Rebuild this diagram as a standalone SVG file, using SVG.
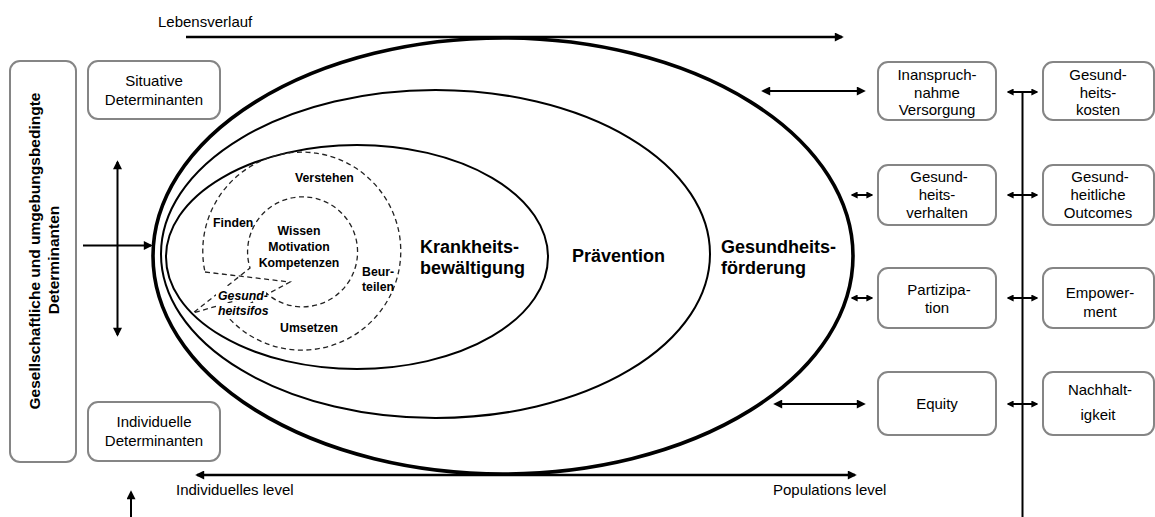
<svg xmlns="http://www.w3.org/2000/svg" width="1155" height="517" viewBox="0 0 1155 517">
<style>
text{font-family:"Liberation Sans",Arial,sans-serif;fill:#000}
.lbl{font-size:15px}
.mid{text-anchor:middle}
.big{font-size:18px;font-weight:bold}
.sm{font-size:12.3px;font-weight:bold}
.box{fill:#fff;stroke:#858585;stroke-width:2}
.ell{fill:none;stroke:#000}
.dash{fill:none;stroke:#222;stroke-width:1.3;stroke-dasharray:5 3.5}
.ln{stroke:#000;stroke-width:2;fill:none}
.lnt{stroke:#000;stroke-width:2.6;fill:none}
</style>
<defs>
<marker id="ah" viewBox="0 0 10 10" refX="8" refY="5" markerWidth="10" markerHeight="9" markerUnits="userSpaceOnUse" orient="auto-start-reverse"><path d="M0,0 L10,5 L0,10 z" fill="#000"/></marker>
<marker id="ahs" viewBox="0 0 10 10" refX="8" refY="5" markerWidth="7" markerHeight="7" markerUnits="userSpaceOnUse" orient="auto-start-reverse"><path d="M0,0 L10,5 L0,10 z" fill="#000"/></marker>
</defs>
<rect width="1155" height="517" fill="#fff"/>

<g id="ellipses">
<ellipse id="gesundheitsfoerderung" class="ell" cx="503" cy="256" rx="350" ry="218" stroke-width="3.6"/>
<ellipse id="praevention" class="ell" cx="435.5" cy="254" rx="274.5" ry="164" stroke-width="2"/>
<ellipse id="krankheitsbewaeltigung" class="ell" cx="357" cy="257" rx="191" ry="112" stroke-width="2"/>
</g>

<g id="literacy">
<path class="dash" d="M205,272 L290,282 L227,316 A99,99 0 1 0 205,272"/>
<path class="dash" d="M265,292 L193,313 L250,268 A55,55 0 1 1 265,292"/>
<rect x="216" y="286" width="50" height="15" fill="#fff"/>
<rect x="216" y="303" width="54" height="16" fill="#fff"/>
<text class="sm" x="295" y="182">Verstehen</text>
<text class="sm" x="213" y="227">Finden</text>
<text class="sm mid" x="299" y="235">Wissen</text>
<text class="sm mid" x="299" y="251">Motivation</text>
<text class="sm mid" x="299" y="267">Kompetenzen</text>
<text class="sm" x="362" y="276">Beur-</text>
<text class="sm" x="362" y="291">teilen</text>
<text class="sm" x="280" y="332">Umsetzen</text>
<text class="sm" x="218" y="300" font-style="italic">Gesund-</text>
<text class="sm" x="218" y="315" font-style="italic">heitsifos</text>
</g>

<g id="ellipse-labels">
<text class="big" x="420" y="253">Krankheits-</text>
<text class="big" x="420" y="274">bewältigung</text>
<text class="big" x="572" y="262">Prävention</text>
<text class="big" x="721" y="253">Gesundheits-</text>
<text class="big" x="721" y="274">förderung</text>
</g>

<g id="axis-labels">
<text class="lbl" x="158" y="27">Lebensverlauf</text>
<text class="lbl" x="176" y="495">Individuelles level</text>
<text class="lbl" x="773" y="495">Populations level</text>
</g>

<g id="gesellschaftliche-determinanten">
<rect class="box" x="10" y="61" width="66" height="401" rx="10"/>
<text font-size="15.5" font-weight="bold" class="mid" transform="translate(40,251) rotate(-90)">Gesellschaftliche und umgebungsbedingte</text>
<text font-size="15.5" font-weight="bold" class="mid" transform="translate(59,260) rotate(-90)">Determinanten</text>
</g>

<g id="situative-determinanten">
<rect class="box" x="88" y="61" width="132" height="58" rx="10"/>
<text class="lbl mid" x="154" y="86">Situative</text>
<text class="lbl mid" x="154" y="105">Determinanten</text>
</g>

<g id="individuelle-determinanten">
<rect class="box" x="88" y="402" width="132" height="59" rx="10"/>
<text class="lbl mid" x="154" y="427">Individuelle</text>
<text class="lbl mid" x="154" y="446">Determinanten</text>
</g>

<g id="inanspruchnahme">
<rect class="box" x="878" y="62" width="118" height="58" rx="10"/>
<text class="lbl mid" x="937" y="80">Inanspruch-</text>
<text class="lbl mid" x="937" y="97.5">nahme</text>
<text class="lbl mid" x="937" y="115">Versorgung</text>
</g>
<g id="gesundheitsverhalten">
<rect class="box" x="878" y="165" width="118" height="60" rx="10"/>
<text class="lbl mid" x="939" y="182">Gesund-</text>
<text class="lbl mid" x="937" y="200">heits-</text>
<text class="lbl mid" x="937" y="218">verhalten</text>
</g>
<g id="partizipation">
<rect class="box" x="878" y="268" width="118" height="60" rx="10"/>
<text class="lbl mid" x="939" y="295">Partizipa-</text>
<text class="lbl mid" x="937" y="313">tion</text>
</g>
<g id="equity">
<rect class="box" x="878" y="372" width="118" height="63" rx="10"/>
<text class="lbl mid" x="937" y="409">Equity</text>
</g>

<g id="gesundheitskosten">
<rect class="box" x="1043" y="62" width="111" height="58" rx="10"/>
<text class="lbl mid" x="1098" y="80">Gesund-</text>
<text class="lbl mid" x="1098" y="97.5">heits-</text>
<text class="lbl mid" x="1098" y="115">kosten</text>
</g>
<g id="outcomes">
<rect class="box" x="1043" y="165" width="111" height="60" rx="10"/>
<text class="lbl mid" x="1100" y="182">Gesund-</text>
<text class="lbl mid" x="1098" y="200">heitliche</text>
<text class="lbl mid" x="1098" y="218">Outcomes</text>
</g>
<g id="empowerment">
<rect class="box" x="1043" y="268" width="111" height="60" rx="10"/>
<text class="lbl mid" x="1100" y="298">Empower-</text>
<text class="lbl mid" x="1100" y="317">ment</text>
</g>
<g id="nachhaltigkeit">
<rect class="box" x="1043" y="372" width="111" height="63" rx="10"/>
<text class="lbl mid" x="1100" y="395">Nachhalt-</text>
<text class="lbl mid" x="1098" y="420">igkeit</text>
</g>

<g id="connectors">
<line class="lnt" x1="186" y1="37" x2="842" y2="37" marker-end="url(#ah)"/>
<line class="lnt" x1="197" y1="475" x2="855" y2="475" marker-start="url(#ah)" marker-end="url(#ah)"/>
<line class="ln" x1="117.5" y1="162" x2="117.5" y2="335" marker-start="url(#ah)" marker-end="url(#ah)"/>
<line class="ln" x1="83" y1="245.5" x2="151" y2="245.5" marker-end="url(#ah)"/>
<line class="ln" x1="131" y1="517" x2="131" y2="492" marker-end="url(#ah)"/>
<line class="ln" x1="1022.5" y1="92" x2="1022.5" y2="517"/>
<line class="ln" x1="763" y1="91" x2="864" y2="91" marker-start="url(#ah)" marker-end="url(#ah)"/>
<line class="ln" x1="852" y1="195" x2="872" y2="195" marker-start="url(#ahs)" marker-end="url(#ahs)"/>
<line class="ln" x1="852" y1="298" x2="872" y2="298" marker-start="url(#ahs)" marker-end="url(#ahs)"/>
<line class="ln" x1="775" y1="404" x2="864" y2="404" marker-start="url(#ah)" marker-end="url(#ah)"/>
<line class="ln" x1="1008" y1="92" x2="1037" y2="92" marker-start="url(#ahs)" marker-end="url(#ahs)"/>
<line class="ln" x1="1008" y1="195" x2="1037" y2="195" marker-start="url(#ahs)" marker-end="url(#ahs)"/>
<line class="ln" x1="1008" y1="298" x2="1037" y2="298" marker-start="url(#ahs)" marker-end="url(#ahs)"/>
<line class="ln" x1="1008" y1="404" x2="1037" y2="404" marker-start="url(#ahs)" marker-end="url(#ahs)"/>
</g>
</svg>
